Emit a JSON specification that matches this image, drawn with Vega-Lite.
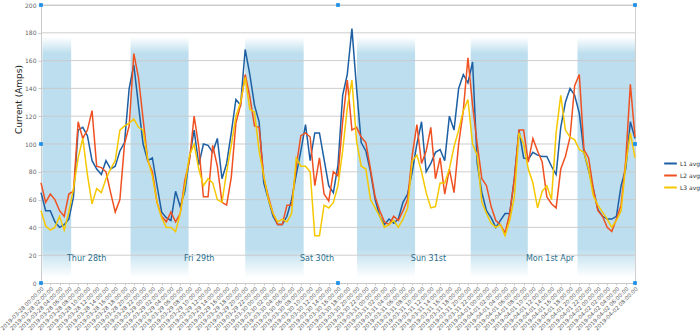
{
  "$schema": "https://vega.github.io/schema/vega-lite/v6.json",
  "width": 594,
  "height": 278,
  "autosize": {"type": "none"},
  "padding": {"left": 41, "top": 5, "right": 65, "bottom": 51},
  "background": "white",
  "config": {"font": "DejaVu Sans", "view": {"stroke": "#d0d0d0"}},
  "resolve": {"axis": {"x": "independent", "y": "independent"}},
  "layer": [
    {
      "data": {
        "values": [
          {"s": "2019-03-28 00:18", "e": "2019-03-28 06:30"},
          {"s": "2019-03-28 19:18", "e": "2019-03-29 07:48"},
          {"s": "2019-03-29 20:00", "e": "2019-03-30 08:36"},
          {"s": "2019-03-30 20:06", "e": "2019-03-31 08:36"},
          {"s": "2019-03-31 20:36", "e": "2019-04-01 08:54"},
          {"s": "2019-04-01 19:36", "e": "2019-04-02 08:00"}
        ],
        "format": {"parse": {"s": "utc:'%Y-%m-%d %H:%M'", "e": "utc:'%Y-%m-%d %H:%M'"}}
      },
      "mark": {
        "type": "rect",
        "fill": {
          "gradient": "linear", "x1": 0, "y1": 0, "x2": 0, "y2": 1,
          "stops": [
            {"offset": 0, "color": "#ffffff"},
            {"offset": 0.07, "color": "#bcdeee"},
            {"offset": 0.88, "color": "#bcdeee"},
            {"offset": 1, "color": "#ffffff"}
          ]
        }
      },
      "encoding": {
        "x": {"field": "s", "type": "temporal", "axis": null},
        "x2": {"field": "e"},
        "y": {"datum": 177, "type": "quantitative", "axis": null},
        "y2": {"datum": 4}
      }
    },
    {
      "data": {"values": [{"g": 20}, {"g": 40}, {"g": 60}, {"g": 80}, {"g": 100}, {"g": 120}, {"g": 140}, {"g": 160}, {"g": 180}, {"g": 200}]},
      "mark": {"type": "rule", "color": "#c9c9c9", "strokeWidth": 1, "opacity": 0.9},
      "encoding": {
        "y": {"field": "g", "type": "quantitative", "axis": null}
      }
    },
    {
      "data": {
        "values": [
          {"t": "2019-03-28 00:00", "L1 avg": 65, "L2 avg": 72, "L3 avg": 52},
          {"t": "2019-03-28 01:00", "L1 avg": 52, "L2 avg": 58, "L3 avg": 41},
          {"t": "2019-03-28 02:00", "L1 avg": 52, "L2 avg": 64, "L3 avg": 38},
          {"t": "2019-03-28 03:00", "L1 avg": 44, "L2 avg": 60, "L3 avg": 40},
          {"t": "2019-03-28 04:00", "L1 avg": 40, "L2 avg": 52, "L3 avg": 48},
          {"t": "2019-03-28 05:00", "L1 avg": 42, "L2 avg": 48, "L3 avg": 38},
          {"t": "2019-03-28 06:00", "L1 avg": 46, "L2 avg": 64, "L3 avg": 51},
          {"t": "2019-03-28 07:00", "L1 avg": 62, "L2 avg": 66, "L3 avg": 68},
          {"t": "2019-03-28 08:00", "L1 avg": 110, "L2 avg": 116, "L3 avg": 90},
          {"t": "2019-03-28 09:00", "L1 avg": 112, "L2 avg": 104, "L3 avg": 104},
          {"t": "2019-03-28 10:00", "L1 avg": 106, "L2 avg": 110, "L3 avg": 78},
          {"t": "2019-03-28 11:00", "L1 avg": 88, "L2 avg": 124, "L3 avg": 57},
          {"t": "2019-03-28 12:00", "L1 avg": 82, "L2 avg": 84, "L3 avg": 68},
          {"t": "2019-03-28 13:00", "L1 avg": 78, "L2 avg": 83, "L3 avg": 65},
          {"t": "2019-03-28 14:00", "L1 avg": 88, "L2 avg": 80, "L3 avg": 75},
          {"t": "2019-03-28 15:00", "L1 avg": 82, "L2 avg": 65, "L3 avg": 82},
          {"t": "2019-03-28 16:00", "L1 avg": 84, "L2 avg": 51, "L3 avg": 88},
          {"t": "2019-03-28 17:00", "L1 avg": 95, "L2 avg": 60, "L3 avg": 110},
          {"t": "2019-03-28 18:00", "L1 avg": 101, "L2 avg": 100, "L3 avg": 113},
          {"t": "2019-03-28 19:00", "L1 avg": 140, "L2 avg": 113, "L3 avg": 115},
          {"t": "2019-03-28 20:00", "L1 avg": 157, "L2 avg": 165, "L3 avg": 118},
          {"t": "2019-03-28 21:00", "L1 avg": 128, "L2 avg": 148, "L3 avg": 112},
          {"t": "2019-03-28 22:00", "L1 avg": 100, "L2 avg": 118, "L3 avg": 110},
          {"t": "2019-03-28 23:00", "L1 avg": 88, "L2 avg": 88, "L3 avg": 89},
          {"t": "2019-03-29 00:00", "L1 avg": 90, "L2 avg": 80, "L3 avg": 77},
          {"t": "2019-03-29 01:00", "L1 avg": 70, "L2 avg": 58, "L3 avg": 58},
          {"t": "2019-03-29 02:00", "L1 avg": 51, "L2 avg": 48, "L3 avg": 47},
          {"t": "2019-03-29 03:00", "L1 avg": 47, "L2 avg": 44, "L3 avg": 40},
          {"t": "2019-03-29 04:00", "L1 avg": 45, "L2 avg": 51, "L3 avg": 40},
          {"t": "2019-03-29 05:00", "L1 avg": 66, "L2 avg": 44, "L3 avg": 37},
          {"t": "2019-03-29 06:00", "L1 avg": 55, "L2 avg": 50, "L3 avg": 50},
          {"t": "2019-03-29 07:00", "L1 avg": 66, "L2 avg": 74, "L3 avg": 70},
          {"t": "2019-03-29 08:00", "L1 avg": 90, "L2 avg": 88, "L3 avg": 92},
          {"t": "2019-03-29 09:00", "L1 avg": 110, "L2 avg": 120, "L3 avg": 100},
          {"t": "2019-03-29 10:00", "L1 avg": 85, "L2 avg": 98, "L3 avg": 82},
          {"t": "2019-03-29 11:00", "L1 avg": 100, "L2 avg": 62, "L3 avg": 70},
          {"t": "2019-03-29 12:00", "L1 avg": 99, "L2 avg": 62, "L3 avg": 75},
          {"t": "2019-03-29 13:00", "L1 avg": 94, "L2 avg": 99, "L3 avg": 72},
          {"t": "2019-03-29 14:00", "L1 avg": 104, "L2 avg": 84, "L3 avg": 60},
          {"t": "2019-03-29 15:00", "L1 avg": 75, "L2 avg": 58, "L3 avg": 58},
          {"t": "2019-03-29 16:00", "L1 avg": 86, "L2 avg": 56, "L3 avg": 80},
          {"t": "2019-03-29 17:00", "L1 avg": 108, "L2 avg": 76, "L3 avg": 99},
          {"t": "2019-03-29 18:00", "L1 avg": 132, "L2 avg": 115, "L3 avg": 120},
          {"t": "2019-03-29 19:00", "L1 avg": 128, "L2 avg": 128, "L3 avg": 130},
          {"t": "2019-03-29 20:00", "L1 avg": 168, "L2 avg": 150, "L3 avg": 148},
          {"t": "2019-03-29 21:00", "L1 avg": 150, "L2 avg": 134, "L3 avg": 125},
          {"t": "2019-03-29 22:00", "L1 avg": 128, "L2 avg": 113, "L3 avg": 123},
          {"t": "2019-03-29 23:00", "L1 avg": 116, "L2 avg": 112, "L3 avg": 95},
          {"t": "2019-03-30 00:00", "L1 avg": 72, "L2 avg": 76, "L3 avg": 77},
          {"t": "2019-03-30 01:00", "L1 avg": 60, "L2 avg": 62, "L3 avg": 60},
          {"t": "2019-03-30 02:00", "L1 avg": 48, "L2 avg": 50, "L3 avg": 50},
          {"t": "2019-03-30 03:00", "L1 avg": 42, "L2 avg": 42, "L3 avg": 44},
          {"t": "2019-03-30 04:00", "L1 avg": 42, "L2 avg": 42, "L3 avg": 46},
          {"t": "2019-03-30 05:00", "L1 avg": 48, "L2 avg": 56, "L3 avg": 44},
          {"t": "2019-03-30 06:00", "L1 avg": 60, "L2 avg": 56, "L3 avg": 50},
          {"t": "2019-03-30 07:00", "L1 avg": 78, "L2 avg": 84, "L3 avg": 90},
          {"t": "2019-03-30 08:00", "L1 avg": 95, "L2 avg": 106, "L3 avg": 84},
          {"t": "2019-03-30 09:00", "L1 avg": 114, "L2 avg": 108, "L3 avg": 84},
          {"t": "2019-03-30 10:00", "L1 avg": 88, "L2 avg": 105, "L3 avg": 80},
          {"t": "2019-03-30 11:00", "L1 avg": 108, "L2 avg": 70, "L3 avg": 34},
          {"t": "2019-03-30 12:00", "L1 avg": 108, "L2 avg": 90, "L3 avg": 34},
          {"t": "2019-03-30 13:00", "L1 avg": 89, "L2 avg": 64, "L3 avg": 56},
          {"t": "2019-03-30 14:00", "L1 avg": 70, "L2 avg": 59, "L3 avg": 54},
          {"t": "2019-03-30 15:00", "L1 avg": 65, "L2 avg": 80, "L3 avg": 58},
          {"t": "2019-03-30 16:00", "L1 avg": 85, "L2 avg": 77, "L3 avg": 70},
          {"t": "2019-03-30 17:00", "L1 avg": 135, "L2 avg": 116, "L3 avg": 95},
          {"t": "2019-03-30 18:00", "L1 avg": 150, "L2 avg": 146, "L3 avg": 126},
          {"t": "2019-03-30 19:00", "L1 avg": 183, "L2 avg": 110, "L3 avg": 146},
          {"t": "2019-03-30 20:00", "L1 avg": 140, "L2 avg": 112, "L3 avg": 102},
          {"t": "2019-03-30 21:00", "L1 avg": 101, "L2 avg": 105, "L3 avg": 84},
          {"t": "2019-03-30 22:00", "L1 avg": 95, "L2 avg": 101, "L3 avg": 82},
          {"t": "2019-03-30 23:00", "L1 avg": 80, "L2 avg": 82, "L3 avg": 60},
          {"t": "2019-03-31 00:00", "L1 avg": 60, "L2 avg": 62, "L3 avg": 54},
          {"t": "2019-03-31 01:00", "L1 avg": 48, "L2 avg": 52, "L3 avg": 48},
          {"t": "2019-03-31 02:00", "L1 avg": 42, "L2 avg": 44, "L3 avg": 40},
          {"t": "2019-03-31 03:00", "L1 avg": 46, "L2 avg": 42, "L3 avg": 42},
          {"t": "2019-03-31 04:00", "L1 avg": 43, "L2 avg": 48, "L3 avg": 45},
          {"t": "2019-03-31 05:00", "L1 avg": 46, "L2 avg": 45, "L3 avg": 40},
          {"t": "2019-03-31 06:00", "L1 avg": 58, "L2 avg": 52, "L3 avg": 46},
          {"t": "2019-03-31 07:00", "L1 avg": 64, "L2 avg": 60, "L3 avg": 54},
          {"t": "2019-03-31 08:00", "L1 avg": 80, "L2 avg": 92, "L3 avg": 88},
          {"t": "2019-03-31 09:00", "L1 avg": 100, "L2 avg": 114, "L3 avg": 92},
          {"t": "2019-03-31 10:00", "L1 avg": 116, "L2 avg": 86, "L3 avg": 80},
          {"t": "2019-03-31 11:00", "L1 avg": 80, "L2 avg": 95, "L3 avg": 65},
          {"t": "2019-03-31 12:00", "L1 avg": 86, "L2 avg": 112, "L3 avg": 54},
          {"t": "2019-03-31 13:00", "L1 avg": 94, "L2 avg": 75, "L3 avg": 55},
          {"t": "2019-03-31 14:00", "L1 avg": 96, "L2 avg": 90, "L3 avg": 72},
          {"t": "2019-03-31 15:00", "L1 avg": 88, "L2 avg": 64, "L3 avg": 72},
          {"t": "2019-03-31 16:00", "L1 avg": 120, "L2 avg": 82, "L3 avg": 82},
          {"t": "2019-03-31 17:00", "L1 avg": 110, "L2 avg": 65, "L3 avg": 98},
          {"t": "2019-03-31 18:00", "L1 avg": 140, "L2 avg": 100, "L3 avg": 110},
          {"t": "2019-03-31 19:00", "L1 avg": 150, "L2 avg": 124, "L3 avg": 124},
          {"t": "2019-03-31 20:00", "L1 avg": 144, "L2 avg": 162, "L3 avg": 132},
          {"t": "2019-03-31 21:00", "L1 avg": 159, "L2 avg": 128, "L3 avg": 100},
          {"t": "2019-03-31 22:00", "L1 avg": 86, "L2 avg": 100, "L3 avg": 92},
          {"t": "2019-03-31 23:00", "L1 avg": 65, "L2 avg": 75, "L3 avg": 58},
          {"t": "2019-04-01 00:00", "L1 avg": 52, "L2 avg": 70, "L3 avg": 50},
          {"t": "2019-04-01 01:00", "L1 avg": 47, "L2 avg": 55, "L3 avg": 43},
          {"t": "2019-04-01 02:00", "L1 avg": 40, "L2 avg": 45, "L3 avg": 40},
          {"t": "2019-04-01 03:00", "L1 avg": 45, "L2 avg": 42, "L3 avg": 42},
          {"t": "2019-04-01 04:00", "L1 avg": 50, "L2 avg": 36, "L3 avg": 34},
          {"t": "2019-04-01 05:00", "L1 avg": 50, "L2 avg": 50, "L3 avg": 45},
          {"t": "2019-04-01 06:00", "L1 avg": 75, "L2 avg": 75, "L3 avg": 62},
          {"t": "2019-04-01 07:00", "L1 avg": 110, "L2 avg": 110, "L3 avg": 108},
          {"t": "2019-04-01 08:00", "L1 avg": 90, "L2 avg": 110, "L3 avg": 100},
          {"t": "2019-04-01 09:00", "L1 avg": 89, "L2 avg": 87, "L3 avg": 82},
          {"t": "2019-04-01 10:00", "L1 avg": 94, "L2 avg": 104, "L3 avg": 72},
          {"t": "2019-04-01 11:00", "L1 avg": 92, "L2 avg": 95, "L3 avg": 54},
          {"t": "2019-04-01 12:00", "L1 avg": 91, "L2 avg": 87, "L3 avg": 66},
          {"t": "2019-04-01 13:00", "L1 avg": 91, "L2 avg": 62, "L3 avg": 70},
          {"t": "2019-04-01 14:00", "L1 avg": 84, "L2 avg": 57, "L3 avg": 60},
          {"t": "2019-04-01 15:00", "L1 avg": 78, "L2 avg": 54, "L3 avg": 108},
          {"t": "2019-04-01 16:00", "L1 avg": 112, "L2 avg": 82, "L3 avg": 135},
          {"t": "2019-04-01 17:00", "L1 avg": 130, "L2 avg": 91, "L3 avg": 110},
          {"t": "2019-04-01 18:00", "L1 avg": 140, "L2 avg": 105, "L3 avg": 105},
          {"t": "2019-04-01 19:00", "L1 avg": 135, "L2 avg": 142, "L3 avg": 103},
          {"t": "2019-04-01 20:00", "L1 avg": 122, "L2 avg": 150, "L3 avg": 96},
          {"t": "2019-04-01 21:00", "L1 avg": 94, "L2 avg": 96, "L3 avg": 94},
          {"t": "2019-04-01 22:00", "L1 avg": 81, "L2 avg": 90, "L3 avg": 82},
          {"t": "2019-04-01 23:00", "L1 avg": 68, "L2 avg": 68, "L3 avg": 63},
          {"t": "2019-04-02 00:00", "L1 avg": 53, "L2 avg": 52, "L3 avg": 56},
          {"t": "2019-04-02 01:00", "L1 avg": 48, "L2 avg": 48, "L3 avg": 51},
          {"t": "2019-04-02 02:00", "L1 avg": 46, "L2 avg": 40, "L3 avg": 46},
          {"t": "2019-04-02 03:00", "L1 avg": 46, "L2 avg": 37, "L3 avg": 40},
          {"t": "2019-04-02 04:00", "L1 avg": 48, "L2 avg": 46, "L3 avg": 45},
          {"t": "2019-04-02 05:00", "L1 avg": 70, "L2 avg": 56, "L3 avg": 52},
          {"t": "2019-04-02 06:00", "L1 avg": 82, "L2 avg": 88, "L3 avg": 85},
          {"t": "2019-04-02 07:00", "L1 avg": 116, "L2 avg": 143, "L3 avg": 108},
          {"t": "2019-04-02 08:00", "L1 avg": 104, "L2 avg": 105, "L3 avg": 90}
        ],
        "format": {"parse": {"t": "utc:'%Y-%m-%d %H:%M'"}}
      },
      "transform": [{"fold": ["L1 avg", "L2 avg", "L3 avg"], "as": ["series", "amps"]}],
      "mark": {"type": "line", "strokeWidth": 1.5},
      "encoding": {
        "x": {
          "field": "t", "type": "temporal",
          "scale": {"type": "utc", "nice": false,
            "domain": [{"year": 2019, "month": 3, "date": 28, "hours": 0, "utc": true}, {"year": 2019, "month": 4, "date": 2, "hours": 8, "utc": true}]},
          "axis": {
            "title": null, "format": "%Y-%m-%d %H:%M:%S",
            "values": [1553731200000, 1553738400000, 1553745600000, 1553752800000, 1553760000000, 1553767200000, 1553774400000, 1553781600000, 1553788800000, 1553796000000, 1553803200000, 1553810400000, 1553817600000, 1553824800000, 1553832000000, 1553839200000, 1553846400000, 1553853600000, 1553860800000, 1553868000000, 1553875200000, 1553882400000, 1553889600000, 1553896800000, 1553904000000, 1553911200000, 1553918400000, 1553925600000, 1553932800000, 1553940000000, 1553947200000, 1553954400000, 1553961600000, 1553968800000, 1553976000000, 1553983200000, 1553990400000, 1553997600000, 1554004800000, 1554012000000, 1554019200000, 1554026400000, 1554033600000, 1554040800000, 1554048000000, 1554055200000, 1554062400000, 1554069600000, 1554076800000, 1554084000000, 1554091200000, 1554098400000, 1554105600000, 1554112800000, 1554120000000, 1554127200000, 1554134400000, 1554141600000, 1554148800000, 1554156000000, 1554163200000, 1554170400000, 1554177600000, 1554184800000, 1554192000000],
            "labelAngle": -45, "labelAlign": "right", "labelBaseline": "top", "labelFontSize": 5.5,
            "labelColor": "#555", "labelOverlap": false, "labelFlush": false, "labelBound": false,
            "labelPadding": 1, "grid": false, "domainColor": "#bbbbbb", "domainDash": [1, 2],
            "tickColor": "#cccccc", "tickSize": 2
          }
        },
        "y": {
          "field": "amps", "type": "quantitative",
          "scale": {"domain": [0, 200], "nice": false},
          "axis": {
            "title": "Current (Amps)", "titleFontSize": 9, "titleFontWeight": "normal", "titleColor": "#222",
            "titleX": -23, "titleY": 94, "titleAngle": -90, "titleAlign": "center", "titleBaseline": "middle",
            "values": [0, 20, 40, 60, 80, 100, 120, 140, 160, 180, 200],
            "labelFontSize": 6, "labelColor": "#666", "labelPadding": 2, "labelOverlap": false, "tickSize": 3, "tickColor": "#cccccc",
            "grid": false, "domainColor": "#cccccc"
          }
        },
        "color": {
          "field": "series", "type": "nominal",
          "scale": {"domain": ["L1 avg", "L2 avg", "L3 avg"], "range": ["#1d5fa3", "#ef5121", "#f5c800"]},
          "legend": {
            "title": null, "orient": "none", "legendX": 622, "legendY": 151,
            "symbolType": "stroke", "symbolSize": 160, "symbolStrokeWidth": 2,
            "labelFontSize": 6, "labelColor": "#333", "rowPadding": 0, "labelOffset": 2
          }
        }
      }
    },
    {
      "data": {
        "values": [
          {"t": "2019-03-28 05:36", "label": "Thur 28th"},
          {"t": "2019-03-29 06:48", "label": "Fri 29th"},
          {"t": "2019-03-30 07:48", "label": "Sat 30th"},
          {"t": "2019-03-31 07:42", "label": "Sun 31st"},
          {"t": "2019-04-01 08:30", "label": "Mon 1st Apr"}
        ],
        "format": {"parse": {"t": "utc:'%Y-%m-%d %H:%M'"}}
      },
      "mark": {"type": "text", "align": "left", "baseline": "middle", "fontSize": 8, "color": "#2b6f8e"},
      "encoding": {
        "x": {"field": "t", "type": "temporal", "axis": null},
        "y": {"datum": 17.5, "type": "quantitative", "axis": null},
        "text": {"field": "label"}
      }
    },
    {
      "data": {
        "values": [
          {"t": "2019-03-28 00:00", "v": 200},
          {"t": "2019-03-30 16:00", "v": 200},
          {"t": "2019-04-02 08:00", "v": 200},
          {"t": "2019-03-28 00:00", "v": 100},
          {"t": "2019-04-02 08:00", "v": 100},
          {"t": "2019-03-28 00:00", "v": 0},
          {"t": "2019-03-30 16:00", "v": 0},
          {"t": "2019-04-02 08:00", "v": 0}
        ],
        "format": {"parse": {"t": "utc:'%Y-%m-%d %H:%M'"}}
      },
      "mark": {"type": "square", "size": 14, "color": "#1e8fe6", "filled": true, "opacity": 1},
      "encoding": {
        "x": {"field": "t", "type": "temporal", "axis": null},
        "y": {"field": "v", "type": "quantitative", "axis": null}
      }
    }
  ]
}
